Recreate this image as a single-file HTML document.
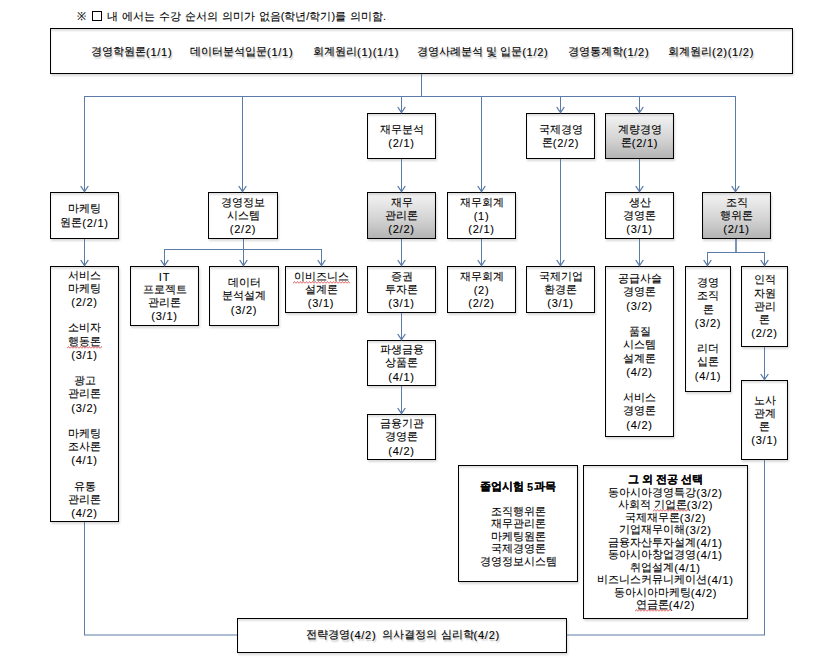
<!DOCTYPE html>
<html><head><meta charset="utf-8"><style>
html,body{margin:0;padding:0;background:#fff;width:834px;height:668px;overflow:hidden;position:relative}
body{font-family:"Liberation Sans",sans-serif;font-size:11px;color:#000;-webkit-text-stroke:0.1px #000}
.bx{position:absolute;box-sizing:border-box;border:1px solid #000;background:#fff;display:flex;flex-direction:column;justify-content:center;align-items:center;text-align:center;line-height:13.2px;box-shadow:0.5px 1.5px 2px rgba(0,0,0,.15),inset 0 2px 2px rgba(0,0,0,.12)}
.g{background:linear-gradient(#f4f4f4,#d2d2d2 60%,#b4b4b4)}
.bx div{white-space:nowrap}
u{text-decoration:none;position:relative;display:inline-block}
u svg{position:absolute;left:-1px;top:auto;bottom:-1px;width:calc(100% + 2px);height:3px}
.a{font-size:11px;letter-spacing:0.75px;position:relative;top:1px}
.sq{display:inline-block;width:8px;height:8px;border:1px solid #000;vertical-align:-1px;margin:0 1px 0 2px}
.t{position:absolute;white-space:nowrap;line-height:13px}
.ts{text-shadow:1px 1.5px 1.5px rgba(0,0,0,.3)}
svg{position:absolute;left:0;top:0}
</style></head><body>
<div class="t" style="left:77px;top:10px;font-size:11px;word-spacing:0.9px">※ <span class="sq"></span> 내 에서는 수강 순서의 의미가 없음(학년/학기)를 의미함.</div>
<div class="bx" id="top" style="left:50px;top:28px;width:743px;height:46px"></div>
<div class="bx" id="b1" style="left:367px;top:113px;width:69px;height:46px"><div>재무분석</div><div><span class="a">(2/1)</span></div></div>
<div class="bx" id="b2" style="left:526px;top:113px;width:69px;height:46px"><div>국제경영</div><div>론<span class="a">(2/2)</span></div></div>
<div class="bx g" id="b3" style="left:605px;top:113px;width:69px;height:46px"><div>계량경영</div><div>론<span class="a">(2/1)</span></div></div>
<div class="bx" id="b5" style="left:50px;top:192px;width:69px;height:47px"><div>마케팅</div><div>원론<span class="a">(2/1)</span></div></div>
<div class="bx" id="b6" style="left:208px;top:192px;width:70px;height:47px"><div>경영정보</div><div>시스템</div><div><span class="a">(2/2)</span></div></div>
<div class="bx g" id="b7" style="left:367px;top:192px;width:69px;height:47px"><div>재무</div><div>관리론</div><div><span class="a">(2/2)</span></div></div>
<div class="bx" id="b8" style="left:447px;top:192px;width:69px;height:47px"><div>재무회계</div><div><span class="a">(1)</span></div><div><span class="a">(2/1)</span></div></div>
<div class="bx" id="b9" style="left:605px;top:192px;width:69px;height:47px"><div>생산</div><div>경영론</div><div><span class="a">(3/1)</span></div></div>
<div class="bx g" id="b10" style="left:702px;top:192px;width:69px;height:47px"><div>조직</div><div>행위론</div><div><span class="a">(2/1)</span></div></div>
<div class="bx" id="b11" style="left:50px;top:266px;width:69px;height:256px"><div>서비스</div><div>마케팅</div><div><span class="a">(2/2)</span></div><div>&nbsp;</div><div>소비자</div><div><u>행동론<svg height="3"><rect width="100%" height="3" fill="url(#zz)"/></svg></u></div><div><span class="a">(3/1)</span></div><div>&nbsp;</div><div>광고</div><div>관리론</div><div><span class="a">(3/2)</span></div><div>&nbsp;</div><div>마케팅</div><div>조사론</div><div><span class="a">(4/1)</span></div><div>&nbsp;</div><div>유통</div><div>관리론</div><div><span class="a">(4/2)</span></div></div>
<div class="bx" id="b12" style="left:130px;top:266px;width:69px;height:60px"><div><span class="a">IT</span></div><div>프로젝트</div><div>관리론</div><div><span class="a">(3/1)</span></div></div>
<div class="bx" id="b13" style="left:209px;top:266px;width:70px;height:60px"><div>데이터</div><div>분석설계</div><div><span class="a">(3/2)</span></div></div>
<div class="bx" id="b14" style="left:285px;top:266px;width:72px;height:47px"><div><u>이비즈니스<svg height="3"><rect width="100%" height="3" fill="url(#zz)"/></svg></u></div><div>설계론</div><div><span class="a">(3/1)</span></div></div>
<div class="bx" id="b15" style="left:367px;top:266px;width:69px;height:47px"><div>증권</div><div>투자론</div><div><span class="a">(3/1)</span></div></div>
<div class="bx" id="b16" style="left:447px;top:266px;width:69px;height:47px"><div>재무회계</div><div><span class="a">(2)</span></div><div><span class="a">(2/2)</span></div></div>
<div class="bx" id="b17" style="left:526px;top:266px;width:69px;height:47px"><div>국제기업</div><div>환경론</div><div><span class="a">(3/1)</span></div></div>
<div class="bx" id="b18" style="left:605px;top:266px;width:69px;height:171px"><div>공급사슬</div><div>경영론</div><div><span class="a">(3/2)</span></div><div>&nbsp;</div><div>품질</div><div>시스템</div><div>설계론</div><div><span class="a">(4/2)</span></div><div>&nbsp;</div><div>서비스</div><div>경영론</div><div><span class="a">(4/2)</span></div></div>
<div class="bx" id="b19" style="left:685px;top:266px;width:46px;height:126px"><div>경영</div><div>조직</div><div>론</div><div><span class="a">(3/2)</span></div><div>&nbsp;</div><div>리더</div><div>십론</div><div><span class="a">(4/1)</span></div></div>
<div class="bx" id="b20" style="left:741px;top:266px;width:47px;height:81px"><div>인적</div><div>자원</div><div>관리</div><div>론</div><div><span class="a">(2/2)</span></div></div>
<div class="bx" id="b21" style="left:367px;top:340px;width:69px;height:46px"><div>파생금융</div><div>상품론</div><div><span class="a">(4/1)</span></div></div>
<div class="bx" id="b22" style="left:367px;top:414px;width:69px;height:46px"><div>금융기관</div><div>경영론</div><div><span class="a">(4/2)</span></div></div>
<div class="bx" id="b23" style="left:741px;top:380px;width:47px;height:80px"><div>노사</div><div>관계</div><div>론</div><div><span class="a">(3/1)</span></div></div>
<div class="bx" id="b24" style="left:458px;top:465px;width:120px;height:117px;line-height:12.5px"><div><b>졸업시험 <span class="a">5</span>과목</b></div><div>&nbsp;</div><div>조직행위론</div><div>재무관리론</div><div>마케팅원론</div><div>국제경영론</div><div>경영정보시스템</div></div>
<div class="bx" id="b25" style="left:583px;top:465px;width:165px;height:154px;line-height:12.5px"><div><b>그 외 전공 선택</b></div><div>동아시아경영특강<span class="a">(3/2)</span></div><div>사회적 <u>기업론<svg height="3"><rect width="100%" height="3" fill="url(#zz)"/></svg></u><span class="a">(3/2)</span></div><div>국제재무론<span class="a">(3/2)</span></div><div>기업재무이해<span class="a">(3/2)</span></div><div>금융자산투자설계<span class="a">(4/1)</span></div><div>동아시아창업경영<span class="a">(4/1)</span></div><div>취업설계<span class="a">(4/1)</span></div><div>비즈니스커뮤니케이션<span class="a">(4/1)</span></div><div>동아시아마케팅<span class="a">(4/2)</span></div><div><u>연금론<svg height="3"><rect width="100%" height="3" fill="url(#zz)"/></svg></u><span class="a">(4/2)</span></div></div>
<div class="bx" id="bot" style="left:237px;top:618px;width:330px;height:35px"></div>
<div class="t ts" style="left:91px;top:45px">경영학원론<span class="a">(1/1)</span></div>
<div class="t ts" style="left:190px;top:45px">데이터분석입문<span class="a">(1/1)</span></div>
<div class="t ts" style="left:313px;top:45px">회계원리<span class="a">(1)(1/1)</span></div>
<div class="t ts" style="left:417px;top:45px">경영사례분석 및 입문<span class="a">(1/2)</span></div>
<div class="t ts" style="left:568px;top:45px">경영통계학<span class="a">(1/2)</span></div>
<div class="t ts" style="left:668px;top:45px">회계원리<span class="a">(2)(1/2)</span></div>
<div class="t ts" style="left:306px;top:628px">전략경영<span class="a">(4/2)</span>&nbsp; 의사결정의 심리학<span class="a">(4/2)</span></div>
<svg width="834" height="668" viewBox="0 0 834 668"><defs><pattern id="zz" width="3" height="3" patternUnits="userSpaceOnUse"><polyline points="0,2.5 1.5,0.5 3,2.5" fill="none" stroke="#e05858" stroke-width="0.9"/></pattern></defs>
<line x1="84" y1="96.5" x2="736" y2="96.5" stroke="#5b7ca8" stroke-width="1"/>
<line x1="421.5" y1="74" x2="421.5" y2="96" stroke="#5b7ca8" stroke-width="1"/>
<line x1="84.5" y1="96" x2="84.5" y2="191" stroke="#5b7ca8" stroke-width="1"/>
<line x1="242.5" y1="96" x2="242.5" y2="191" stroke="#5b7ca8" stroke-width="1"/>
<line x1="401.5" y1="96" x2="401.5" y2="112" stroke="#5b7ca8" stroke-width="1"/>
<line x1="481.5" y1="96" x2="481.5" y2="191" stroke="#5b7ca8" stroke-width="1"/>
<line x1="560.5" y1="96" x2="560.5" y2="112" stroke="#5b7ca8" stroke-width="1"/>
<line x1="639.5" y1="96" x2="639.5" y2="112" stroke="#5b7ca8" stroke-width="1"/>
<line x1="735.5" y1="96" x2="735.5" y2="191" stroke="#5b7ca8" stroke-width="1"/>
<line x1="401.5" y1="159" x2="401.5" y2="191" stroke="#5b7ca8" stroke-width="1"/>
<line x1="401.5" y1="239" x2="401.5" y2="265" stroke="#5b7ca8" stroke-width="1"/>
<line x1="401.5" y1="313" x2="401.5" y2="339" stroke="#5b7ca8" stroke-width="1"/>
<line x1="401.5" y1="386" x2="401.5" y2="413" stroke="#5b7ca8" stroke-width="1"/>
<line x1="560.5" y1="159" x2="560.5" y2="265" stroke="#5b7ca8" stroke-width="1"/>
<line x1="639.5" y1="159" x2="639.5" y2="191" stroke="#5b7ca8" stroke-width="1"/>
<line x1="639.5" y1="239" x2="639.5" y2="265" stroke="#5b7ca8" stroke-width="1"/>
<line x1="84.5" y1="239" x2="84.5" y2="265" stroke="#5b7ca8" stroke-width="1"/>
<line x1="84.5" y1="522" x2="84.5" y2="635" stroke="#5b7ca8" stroke-width="1"/>
<line x1="84" y1="635.0" x2="237" y2="635.0" stroke="#5b7ca8" stroke-width="1"/>
<line x1="243.5" y1="239" x2="243.5" y2="249" stroke="#5b7ca8" stroke-width="1"/>
<line x1="164" y1="249.5" x2="322" y2="249.5" stroke="#5b7ca8" stroke-width="1"/>
<line x1="164.5" y1="249" x2="164.5" y2="265" stroke="#5b7ca8" stroke-width="1"/>
<line x1="243.5" y1="249" x2="243.5" y2="265" stroke="#5b7ca8" stroke-width="1"/>
<line x1="321.5" y1="249" x2="321.5" y2="265" stroke="#5b7ca8" stroke-width="1"/>
<line x1="481.5" y1="239" x2="481.5" y2="265" stroke="#5b7ca8" stroke-width="1"/>
<line x1="736.0" y1="239" x2="736.0" y2="253" stroke="#5b7ca8" stroke-width="1.6"/>
<line x1="707" y1="252.5" x2="765" y2="252.5" stroke="#5b7ca8" stroke-width="1"/>
<line x1="707.5" y1="252" x2="707.5" y2="265" stroke="#5b7ca8" stroke-width="1"/>
<line x1="764.5" y1="252" x2="764.5" y2="265" stroke="#5b7ca8" stroke-width="1"/>
<line x1="764.5" y1="347" x2="764.5" y2="379" stroke="#5b7ca8" stroke-width="1"/>
<line x1="764.5" y1="460" x2="764.5" y2="635" stroke="#5b7ca8" stroke-width="1"/>
<line x1="567" y1="635.0" x2="765" y2="635.0" stroke="#5b7ca8" stroke-width="1"/>
<polyline points="80.7,186.0 84.5,191.6 88.3,186.0" fill="none" stroke="#5b7ca8" stroke-width="1.3"/>
<polyline points="238.7,186.0 242.5,191.6 246.3,186.0" fill="none" stroke="#5b7ca8" stroke-width="1.3"/>
<polyline points="397.7,107.0 401.5,112.6 405.3,107.0" fill="none" stroke="#5b7ca8" stroke-width="1.3"/>
<polyline points="477.7,186.0 481.5,191.6 485.3,186.0" fill="none" stroke="#5b7ca8" stroke-width="1.3"/>
<polyline points="556.7,107.0 560.5,112.6 564.3,107.0" fill="none" stroke="#5b7ca8" stroke-width="1.3"/>
<polyline points="635.7,107.0 639.5,112.6 643.3,107.0" fill="none" stroke="#5b7ca8" stroke-width="1.3"/>
<polyline points="731.7,186.0 735.5,191.6 739.3,186.0" fill="none" stroke="#5b7ca8" stroke-width="1.3"/>
<polyline points="397.7,186.0 401.5,191.6 405.3,186.0" fill="none" stroke="#5b7ca8" stroke-width="1.3"/>
<polyline points="397.7,260.0 401.5,265.6 405.3,260.0" fill="none" stroke="#5b7ca8" stroke-width="1.3"/>
<polyline points="397.7,334.0 401.5,339.6 405.3,334.0" fill="none" stroke="#5b7ca8" stroke-width="1.3"/>
<polyline points="397.7,408.0 401.5,413.6 405.3,408.0" fill="none" stroke="#5b7ca8" stroke-width="1.3"/>
<polyline points="556.7,260.0 560.5,265.6 564.3,260.0" fill="none" stroke="#5b7ca8" stroke-width="1.3"/>
<polyline points="635.7,186.0 639.5,191.6 643.3,186.0" fill="none" stroke="#5b7ca8" stroke-width="1.3"/>
<polyline points="635.7,260.0 639.5,265.6 643.3,260.0" fill="none" stroke="#5b7ca8" stroke-width="1.3"/>
<polyline points="80.7,260.0 84.5,265.6 88.3,260.0" fill="none" stroke="#5b7ca8" stroke-width="1.3"/>
<polyline points="160.7,260.0 164.5,265.6 168.3,260.0" fill="none" stroke="#5b7ca8" stroke-width="1.3"/>
<polyline points="239.7,260.0 243.5,265.6 247.3,260.0" fill="none" stroke="#5b7ca8" stroke-width="1.3"/>
<polyline points="317.7,260.0 321.5,265.6 325.3,260.0" fill="none" stroke="#5b7ca8" stroke-width="1.3"/>
<polyline points="477.7,260.0 481.5,265.6 485.3,260.0" fill="none" stroke="#5b7ca8" stroke-width="1.3"/>
<polyline points="703.7,260.0 707.5,265.6 711.3,260.0" fill="none" stroke="#5b7ca8" stroke-width="1.3"/>
<polyline points="760.7,260.0 764.5,265.6 768.3,260.0" fill="none" stroke="#5b7ca8" stroke-width="1.3"/>
<polyline points="760.7,374.0 764.5,379.6 768.3,374.0" fill="none" stroke="#5b7ca8" stroke-width="1.3"/>
</svg>
</body></html>
